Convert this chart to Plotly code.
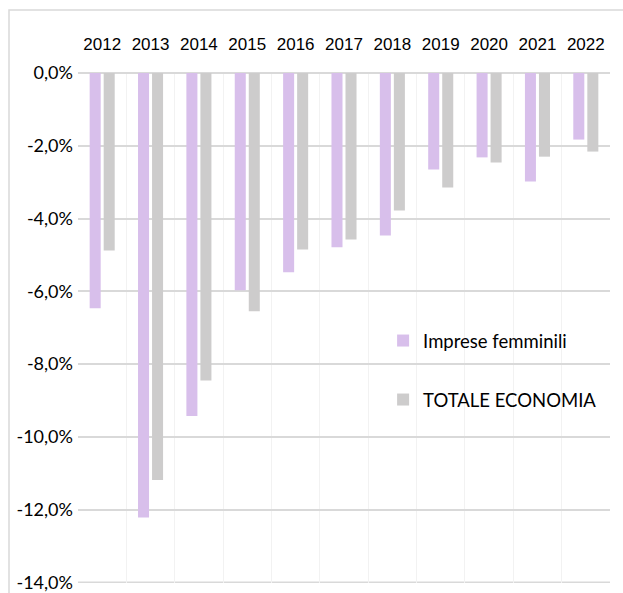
import plotly.graph_objects as go

years = ["2012", "2013", "2014", "2015", "2016", "2017", "2018", "2019", "2020", "2021", "2022"]
femminili = [-6.47, -12.22, -9.43, -5.97, -5.48, -4.79, -4.47, -2.65, -2.32, -2.98, -1.83]
totale = [-4.88, -11.19, -8.45, -6.55, -4.85, -4.58, -3.78, -3.15, -2.46, -2.30, -2.16]
tick_vals = [0, -2, -4, -6, -8, -10, -12, -14]
tick_text = ["0,0%", "-2,0%", "-4,0%", "-6,0%", "-8,0%", "-10,0%", "-12,0%", "-14,0%"]

PURPLE = "#d8bfeb"
GRAY = "#cdcccc"
GRID = "#d9d9d9"

fig = go.Figure()
fig.add_trace(go.Bar(x=years, y=femminili, name="Imprese femminili",
                     marker=dict(color=PURPLE, line=dict(width=0)), legend="legend"))
fig.add_trace(go.Bar(x=years, y=totale, name="TOTALE ECONOMIA",
                     marker=dict(color=GRAY, line=dict(width=0)), legend="legend2"))

legend_font = dict(family="Lato, Open Sans, sans-serif", size=18.5, color="#000000")

fig.update_layout(
    width=623, height=593,
    margin=dict(l=78, r=13, t=73, b=10, autoexpand=False),
    paper_bgcolor="white", plot_bgcolor="white",
    barmode="group", bargap=0.42, bargroupgap=0.214,
    showlegend=True,
    legend=dict(x=0.5735, y=0.4745, xanchor="left", yanchor="middle",
                font=legend_font, bgcolor="rgba(0,0,0,0)", borderwidth=0),
    legend2=dict(x=0.5735, y=0.3588, xanchor="left", yanchor="middle",
                 font=legend_font, bgcolor="rgba(0,0,0,0)", borderwidth=0),
    xaxis=dict(side="top", type="category", tickson="boundaries", showgrid=True,
               gridcolor="#f2f2f2", gridwidth=1, ticks="", showline=False,
               tickangle=0, automargin=False,
               tickfont=dict(family="Liberation Sans, Arial, sans-serif", size=17, color="#000000"),
               ticklabelstandoff=19),
    yaxis=dict(range=[-14.02, 0], tickvals=tick_vals, ticktext=tick_text,
               showgrid=True, gridcolor=GRID, gridwidth=1.5,
               zeroline=True, zerolinecolor=GRID, zerolinewidth=1.5,
               showline=False, ticks="", automargin=False,
               tickfont=dict(family="Lato, Open Sans, sans-serif", size=18, color="#000000"),
               ticklabelstandoff=4),
    shapes=[dict(type="rect", xref="paper", yref="paper",
                 x0=-0.1297, y0=-0.3, x1=1.3, y1=1.1235,
                 line=dict(color=GRID, width=1.5), fillcolor="rgba(0,0,0,0)", layer="below"),
            dict(type="line", xref="paper", yref="y", x0=0, x1=1,
                 y0=tick_vals[-1], y1=tick_vals[-1],
                 line=dict(color=GRID, width=1.5), layer="below")],
)

fig.write_html("out.html", config={"displayModeBar": False},
               post_script="document.body.style.margin='0';document.body.style.padding='0';")
